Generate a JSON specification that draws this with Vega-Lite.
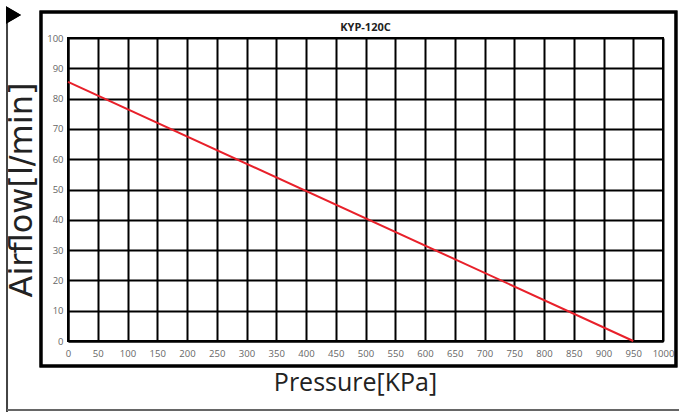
{
  "$schema": "https://vega.github.io/schema/vega-lite/v6.json",
  "width": 595,
  "height": 303,
  "autosize": {"type": "none"},
  "padding": {"left": 68, "top": 38, "right": 16, "bottom": 71},
  "background": "white",
  "config": {
    "view": {"stroke": "black", "strokeWidth": 2},
    "font": "Open Sans",
    "axisX": {
      "grid": true, "gridColor": "black", "gridWidth": 2, "gridOpacity": 1,
      "domainColor": "black", "domainWidth": 2, "ticks": false,
      "labelColor": "#666", "labelFontSize": 9.5, "labelPadding": 7, "labelFlush": false, "labelOverlap": false,
      "titleFont": "Open Sans", "titleFontSize": 25, "titleFontWeight": "normal", "titleColor": "#222", "titlePadding": 13,
      "titleX": 287, "titleAlign": "center", "titleAnchor": "start"
    },
    "axisY": {
      "grid": true, "gridColor": "black", "gridWidth": 2, "gridOpacity": 1,
      "domainColor": "black", "domainWidth": 2, "ticks": false,
      "labelColor": "#666", "labelFontSize": 9.5, "labelPadding": 5, "labelFlush": false, "labelOverlap": false,
      "titleFont": "DejaVu Sans", "titleFontSize": 32, "titleFontWeight": "normal", "titleColor": "#222", "titlePadding": 8
    }
  },
  "title": {
    "text": "KYP-120C",
    "fontSize": 11,
    "fontWeight": "bold",
    "font": "Open Sans",
    "color": "#222",
    "offset": -27,
    "anchor": "middle"
  },
  "data": {
    "values": [
      {"pressure": 0, "airflow": 85.5},
      {"pressure": 950, "airflow": 0}
    ]
  },
  "layer": [
    {
      "mark": {"type": "line", "color": "#e8202a", "strokeWidth": 2},
      "encoding": {
        "x": {
          "field": "pressure",
          "type": "quantitative",
          "scale": {"domain": [0, 1000], "nice": false},
          "axis": {"values": [0, 50, 100, 150, 200, 250, 300, 350, 400, 450, 500, 550, 600, 650, 700, 750, 800, 850, 900, 950, 1000], "format": "d", "title": "Pressure[KPa]"}
        },
        "y": {
          "field": "airflow",
          "type": "quantitative",
          "scale": {"domain": [0, 100], "nice": false},
          "axis": {"values": [0, 10, 20, 30, 40, 50, 60, 70, 80, 90, 100], "title": "Airflow[l/min]"}
        }
      }
    },
    {
      "mark": {"type": "rect", "filled": false, "stroke": "black", "strokeWidth": 3, "clip": false},
      "encoding": {
        "x": {"datum": -45.4, "type": "quantitative", "scale": {"domain": [0, 1000], "nice": false},
          "axis": {"values": [0, 50, 100, 150, 200, 250, 300, 350, 400, 450, 500, 550, 600, 650, 700, 750, 800, 850, 900, 950, 1000], "format": "d", "title": "Pressure[KPa]"}},
        "x2": {"datum": 1021.8},
        "y": {"datum": 108.6, "type": "quantitative", "scale": {"domain": [0, 100], "nice": false},
          "axis": {"values": [0, 10, 20, 30, 40, 50, 60, 70, 80, 90, 100], "title": "Airflow[l/min]"}},
        "y2": {"datum": -8.25}
      }
    },
    {
      "mark": {"type": "rule", "stroke": "#444", "strokeWidth": 2, "clip": false},
      "encoding": {
        "x": {"datum": -102.5, "type": "quantitative", "scale": {"domain": [0, 1000], "nice": false},
          "axis": {"values": [0, 50, 100, 150, 200, 250, 300, 350, 400, 450, 500, 550, 600, 650, 700, 750, 800, 850, 900, 950, 1000], "format": "d", "title": "Pressure[KPa]"}},
        "y": {"datum": 109, "type": "quantitative", "scale": {"domain": [0, 100], "nice": false},
          "axis": {"values": [0, 10, 20, 30, 40, 50, 60, 70, 80, 90, 100], "title": "Airflow[l/min]"}},
        "y2": {"datum": -24}
      }
    },
    {
      "mark": {"type": "rule", "stroke": "#666", "strokeWidth": 2, "clip": false},
      "encoding": {
        "x": {"datum": -102.5, "type": "quantitative", "scale": {"domain": [0, 1000], "nice": false},
          "axis": {"values": [0, 50, 100, 150, 200, 250, 300, 350, 400, 450, 500, 550, 600, 650, 700, 750, 800, 850, 900, 950, 1000], "format": "d", "title": "Pressure[KPa]"}},
        "x2": {"datum": 1027},
        "y": {"datum": -22.8, "type": "quantitative", "scale": {"domain": [0, 100], "nice": false},
          "axis": {"values": [0, 10, 20, 30, 40, 50, 60, 70, 80, 90, 100], "title": "Airflow[l/min]"}}
      }
    },
    {
      "mark": {"type": "point", "shape": "triangle-right", "filled": true, "color": "black", "size": 300, "opacity": 1, "clip": false},
      "encoding": {
        "x": {"datum": -91.5, "type": "quantitative", "scale": {"domain": [0, 1000], "nice": false},
          "axis": {"values": [0, 50, 100, 150, 200, 250, 300, 350, 400, 450, 500, 550, 600, 650, 700, 750, 800, 850, 900, 950, 1000], "format": "d", "title": "Pressure[KPa]"}},
        "y": {"datum": 107.6, "type": "quantitative", "scale": {"domain": [0, 100], "nice": false},
          "axis": {"values": [0, 10, 20, 30, 40, 50, 60, 70, 80, 90, 100], "title": "Airflow[l/min]"}}
      }
    }
  ]
}
